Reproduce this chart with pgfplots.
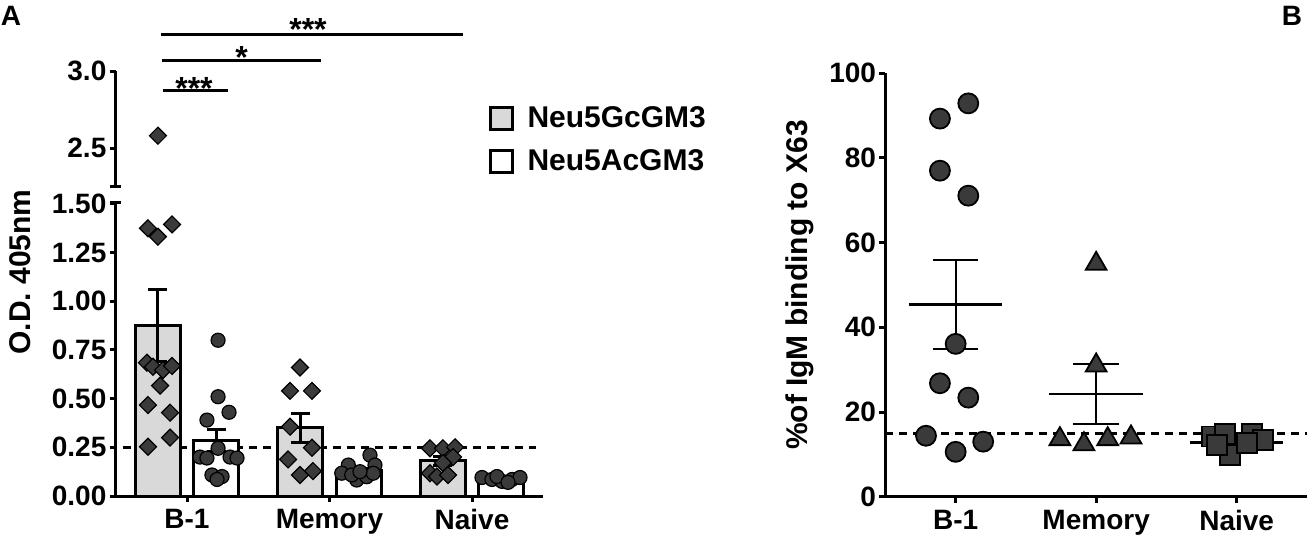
\documentclass[border=0pt]{standalone}
\usepackage{pgfplots}
\pgfplotsset{compat=1.18}
\usepackage{fontspec}
\setmainfont{Liberation Sans}
\definecolor{barfill}{HTML}{D9D9D9}
\definecolor{markfill}{HTML}{3A3A3A}
\begin{document}
\begin{tikzpicture}
\path[use as bounding box] (0pt,0pt) rectangle (656pt,269pt);
\pgfplotsset{
  every axis/.append style={
    scale only axis,
    axis line style={line width=1.5pt,-},
    major tick style={line width=1.5pt,black},
    tick align=outside,
    major tick length=3pt,
    /pgf/number format/assume math mode=true,
    tick label style={font=\bfseries\fontsize{14}{16}\selectfont, inner sep=1.5pt},
    xticklabel style={yshift=-2pt},
    clip=false,
  },
  dmark/.style={only marks, mark=square*, mark size=3pt,
    mark options={rotate=45, fill=markfill, draw=black, line width=0.6pt}},
  cmarkA/.style={only marks, mark=*, mark size=3.5pt,
    mark options={fill=markfill, draw=black, line width=0.6pt}},
}
% ---------------- Panel A, lower part ----------------
\begin{axis}[
  at={(57.875pt,21pt)}, anchor=south west,
  width=213.75pt, height=147pt,
  xmin=-0.5, xmax=2.5, ymin=0, ymax=1.51,
  axis x line*=bottom, axis y line*=left,
  xtick={0,1,2}, xticklabels={B-1,Memory,Naive},
  ytick={0,0.25,0.5,0.75,1,1.25,1.5},
  yticklabel style={/pgf/number format/.cd, fixed, fixed zerofill, precision=2},
  ylabel={O.D. 405nm},
  every axis y label/.style={at={(axis description cs:-0.224,0.762)}, rotate=90, anchor=center,
    font=\bfseries\fontsize{15}{18}\selectfont},
]
\addplot[black, line width=1.5pt, dash pattern=on 4pt off 3pt] coordinates {(-0.45,0.25) (2.45,0.25)};
% Neu5GcGM3 bars (mean +- SEM)
\addplot[ybar, bar width=22.5pt, bar shift=0pt, fill=barfill, draw=black, line width=1.5pt,
  error bars/.cd, y dir=both, y explicit,
  error bar style={line width=1.5pt, black},
  error mark options={rotate=90, line width=1.5pt, mark size=4.75pt, black}]
  coordinates {(-0.205,0.875) +- (0,0.185) (0.795,0.35) +- (0,0.075) (1.795,0.18) +- (0,0.022)};
% Neu5AcGM3 bars
\addplot[ybar, bar width=22.5pt, bar shift=0pt, fill=white, draw=black, line width=1.5pt,
  error bars/.cd, y dir=both, y explicit,
  error bar style={line width=1.5pt, black},
  error mark options={rotate=90, line width=1.5pt, mark size=4.75pt, black}]
  coordinates {(0.205,0.285) +- (0,0.055) (1.205,0.13) +- (0,0.012) (2.205,0.085) +- (0,0.006)};
% points Neu5Gc (diamonds)
\addplot[dmark] coordinates {
  (-0.274,1.375) (-0.204,1.332) (-0.105,1.395) (-0.281,0.685) (-0.239,0.664)
  (-0.168,0.647) (-0.105,0.668) (-0.189,0.567) (-0.274,0.467) (-0.119,0.428)
  (-0.119,0.300) (-0.274,0.253)
  (0.793,0.660) (0.723,0.540) (0.877,0.540) (0.723,0.356) (0.877,0.248)
  (0.709,0.188) (0.884,0.128) (0.793,0.108)
  (1.705,0.245) (1.796,0.245) (1.881,0.250) (1.867,0.200) (1.705,0.117)
  (1.754,0.100) (1.832,0.108) (1.796,0.170)};
% points Neu5Ac (circles)
\addplot[cmarkA] coordinates {
  (0.218,0.800) (0.218,0.510) (0.295,0.430) (0.140,0.390) (0.218,0.245)
  (0.091,0.200) (0.140,0.195) (0.302,0.200) (0.351,0.195) (0.175,0.108)
  (0.246,0.100) (0.211,0.085)
  (1.132,0.159) (1.284,0.210) (1.319,0.159) (1.086,0.117) (1.191,0.082)
  (1.261,0.099) (1.156,0.108) (1.307,0.117) (1.214,0.125)
  (2.070,0.095) (2.140,0.085) (2.211,0.075) (2.281,0.085) (2.337,0.095)
  (2.175,0.100) (2.253,0.070)};
\draw[line width=1.5pt] ([xshift=-2.75pt]axis cs:-0.5,1.51) -- ([xshift=2.75pt]axis cs:-0.5,1.51);
\end{axis}
% ---------------- Panel A, upper part ----------------
\begin{axis}[
  at={(57.875pt,175.75pt)}, anchor=south west,
  width=213.75pt, height=57.75pt,
  xmin=-0.5, xmax=2.5, ymin=2.25, ymax=3,
  axis x line=none, axis y line*=left,
  ytick={2.5,3},
  yticklabel style={/pgf/number format/.cd, fixed, fixed zerofill, precision=1},
  legend style={at={(0.871,0.729)}, anchor=north west, draw=none, fill=none,
    inner sep=0pt, row sep=5.5pt, column sep=5pt,
    font=\bfseries\fontsize{15}{18}\selectfont},
  legend cell align=left,
  legend image code/.code={\draw[#1] (0pt,-5.5pt) rectangle (11pt,5.5pt);},
]
\addplot[dmark, forget plot] coordinates {(-0.204,2.58)};
\addlegendimage{fill=barfill, draw=black, line width=1.5pt}
\addlegendentry{Neu5GcGM3}
\addlegendimage{fill=white, draw=black, line width=1.5pt}
\addlegendentry{Neu5AcGM3}
\draw[line width=1.5pt] ([xshift=-2.75pt]axis cs:-0.5,2.25) -- ([xshift=2.75pt]axis cs:-0.5,2.25);
% significance bars
\draw[line width=1.5pt] (axis cs:-0.168,2.872) -- (axis cs:0.289,2.872);
\draw[line width=1.5pt] (axis cs:-0.175,3.069) -- (axis cs:0.940,3.069);
\draw[line width=1.5pt] (axis cs:-0.185,3.238) -- (axis cs:1.935,3.238);
\node[font=\bfseries\fontsize{16}{18}\selectfont, anchor=base, inner sep=0pt, yshift=-4.4pt] at (axis cs:0.049,2.872) {***};
\node[font=\bfseries\fontsize{16}{18}\selectfont, anchor=base, inner sep=0pt, yshift=-4pt] at (axis cs:0.384,3.069) {*};
\node[font=\bfseries\fontsize{16}{18}\selectfont, anchor=base, inner sep=0pt, yshift=-3pt] at (axis cs:0.849,3.238) {***};
\end{axis}
\node[font=\bfseries\fontsize{14}{16}\selectfont] at (5.5pt,261pt) {A};
% ---------------- Panel B ----------------
\begin{axis}[
  at={(442.7pt,20.65pt)}, anchor=south west,
  width=210.75pt, height=211.7pt,
  xmin=-0.5, xmax=2.5, ymin=0, ymax=100,
  axis x line*=bottom, axis y line*=left,
  xtick={0,1,2}, xticklabels={B-1,Memory,Naive},
  ytick={0,20,40,60,80,100},
  ylabel={\%of IgM binding to X63},
  every axis y label/.style={at={(axis description cs:-0.2026,0.5)}, rotate=90, anchor=center,
    font=\bfseries\fontsize{15}{18}\selectfont},
]
\addplot[black, line width=1.5pt, dash pattern=on 4pt off 3pt] coordinates {(-0.5,15) (2.5,15)};
\addplot[only marks, mark=*, mark size=5pt, mark options={fill=markfill, draw=black, line width=0.9pt}]
  coordinates {(0.090,92.9) (-0.112,89.3) (-0.112,77.0) (0.090,71.1) (0,36.1)
  (-0.112,26.8) (0.090,23.4) (-0.211,14.4) (0.196,13.0) (0,10.6)};
\addplot[only marks, mark=triangle*, mark size=6pt, mark options={fill=markfill, draw=black, line width=0.9pt}]
  coordinates {(1.0,55.0) (1.0,31.0) (0.742,13.6) (0.913,12.4) (1.082,13.6) (1.248,14.0)};
\addplot[only marks, mark=square*, mark size=5pt, mark options={fill=markfill, draw=black, line width=0.9pt}]
  coordinates {(1.822,14.2) (1.917,14.8) (2.107,14.8) (2.187,13.4) (1.952,9.8) (2.071,12.6) (1.858,12.2)};
% means
\addplot[black, line width=1.1pt] coordinates {(-0.333,45.4) (0.333,45.4)};
\addplot[black, line width=1.1pt] coordinates {(0.667,24.2) (1.333,24.2)};
\addplot[black, line width=1.1pt] coordinates {(1.667,12.8) (2.333,12.8)};
% SEM
\addplot[black, line width=1.1pt, mark=none, error bars/.cd, y dir=both, y explicit,
  error bar style={line width=1.1pt}, error mark options={rotate=90, line width=1.1pt, mark size=11.4pt}]
  coordinates {(0,45.4) +- (0,10.5)};
\addplot[black, line width=1.1pt, mark=none, error bars/.cd, y dir=both, y explicit,
  error bar style={line width=1.1pt}, error mark options={rotate=90, line width=1.1pt, mark size=11.4pt}]
  coordinates {(1,24.2) +- (0,7.1)};
\addplot[black, line width=1.1pt, mark=none, error bars/.cd, y dir=both, y explicit,
  error bar style={line width=1.1pt}, error mark options={rotate=90, line width=1.1pt, mark size=11.4pt}]
  coordinates {(2,12.8) +- (0,0.7)};
\end{axis}
\node[font=\bfseries\fontsize{14}{16}\selectfont] at (646pt,261pt) {B};
\end{tikzpicture}
\end{document}
